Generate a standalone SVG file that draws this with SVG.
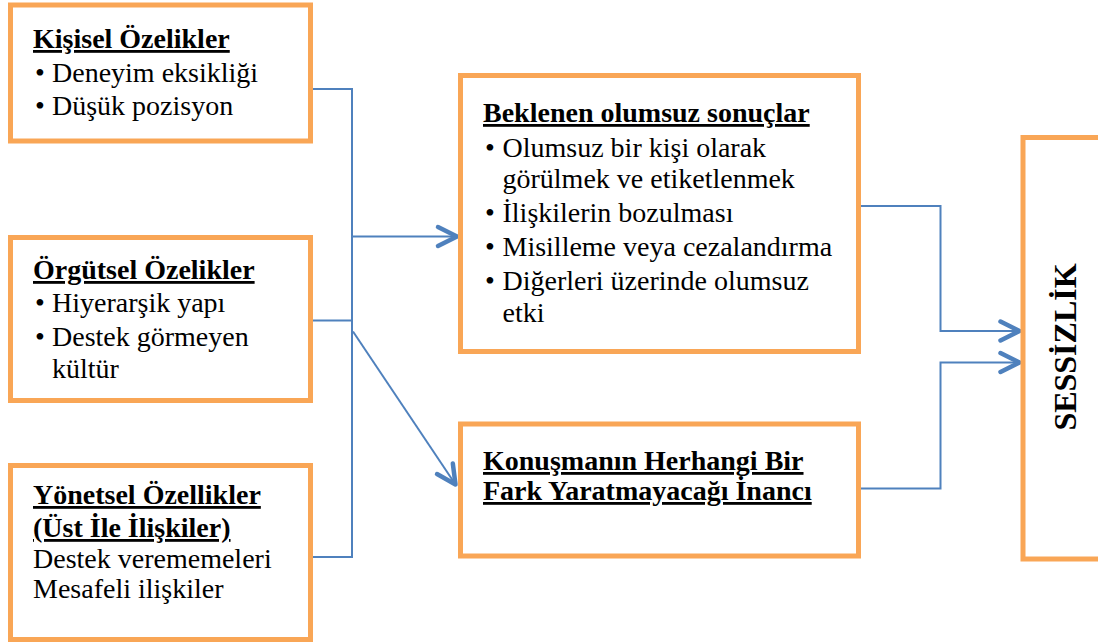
<svg xmlns="http://www.w3.org/2000/svg" width="1098" height="642" viewBox="0 0 1098 642">
<style>
  .box { fill: #FFFFFF; stroke: #F9A656; stroke-width: 5; }
  .lbl { font-family: "Liberation Serif", "Times New Roman", serif; font-size: 28px; fill: #000000; }
  .hdr { font-weight: bold; text-decoration: underline; }
  .big { font-family: "Liberation Serif", "Times New Roman", serif; font-size: 32px; font-weight: bold; fill: #000000; }
  .conn { fill: none; stroke: #4F81BD; stroke-width: 2; }
  .head { fill: none; stroke: #4F81BD; stroke-width: 4.5; stroke-linecap: round; stroke-linejoin: round; }
</style>
<defs>
  <marker id="arrow" markerUnits="userSpaceOnUse" markerWidth="40" markerHeight="40" refX="0" refY="0" orient="auto" viewBox="-30 -20 40 40" overflow="visible">
    <path class="head" d="M-19,-9.5 L0,0 L-19,9.5"/>
  </marker>
</defs>
<rect width="1098" height="642" fill="#FFFFFF"/>

<g id="connectors">
  <path class="conn" d="M311,89 H352 V557 H311"/>
  <path class="conn" d="M311,320.5 H352"/>
  <path class="conn" d="M352,236.5 H457" marker-end="url(#arrow)"/>
  <path class="conn" d="M353,331.5 L455.5,484.5" marker-end="url(#arrow)"/>
  <path class="conn" d="M860,206 H940.5 V331 H1019.5" marker-end="url(#arrow)"/>
  <path class="conn" d="M860,488.5 H940.5 V362.5 H1019.5" marker-end="url(#arrow)"/>
</g>

<g id="kisisel">
  <rect class="box" x="10.5" y="5" width="300" height="136"/>
  <text class="lbl hdr" x="33" y="48">Kişisel Özelikler</text>
  <text class="lbl" y="82"><tspan x="35">•</tspan><tspan x="52">Deneyim eksikliği</tspan></text>
  <text class="lbl" y="115"><tspan x="35">•</tspan><tspan x="52">Düşük pozisyon</tspan></text>
</g>

<g id="orgutsel">
  <rect class="box" x="10.5" y="237.5" width="300" height="163"/>
  <text class="lbl hdr" x="33" y="279">Örgütsel Özelikler</text>
  <text class="lbl" y="312"><tspan x="35">•</tspan><tspan x="52">Hiyerarşik yapı</tspan></text>
  <text class="lbl" y="346"><tspan x="35">•</tspan><tspan x="52">Destek görmeyen</tspan></text>
  <text class="lbl" x="52" y="378">kültür</text>
</g>

<g id="yonetsel">
  <rect class="box" x="10.5" y="465.5" width="300" height="174"/>
  <text class="lbl hdr" x="33" y="504">Yönetsel Özellikler</text>
  <text class="lbl hdr" x="33" y="537">(Üst İle İlişkiler)</text>
  <text class="lbl" x="33" y="568">Destek verememeleri</text>
  <text class="lbl" x="33" y="598">Mesafeli ilişkiler</text>
</g>

<g id="beklenen">
  <rect class="box" x="460.5" y="75.5" width="398" height="276"/>
  <text class="lbl hdr" x="483" y="122">Beklenen olumsuz sonuçlar</text>
  <text class="lbl" y="157"><tspan x="485">•</tspan><tspan x="502.5">Olumsuz bir kişi olarak</tspan></text>
  <text class="lbl" x="502.5" y="188">görülmek ve etiketlenmek</text>
  <text class="lbl" y="222"><tspan x="485">•</tspan><tspan x="502.5">İlişkilerin bozulması</tspan></text>
  <text class="lbl" y="256"><tspan x="485">•</tspan><tspan x="502.5">Misilleme veya cezalandırma</tspan></text>
  <text class="lbl" y="290"><tspan x="485">•</tspan><tspan x="502.5">Diğerleri üzerinde olumsuz</tspan></text>
  <text class="lbl" x="502.5" y="322">etki</text>
</g>

<g id="konusmanin">
  <rect class="box" x="460.5" y="424" width="398" height="132"/>
  <text class="lbl hdr" x="483" y="470">Konuşmanın Herhangi Bir</text>
  <text class="lbl hdr" x="483" y="500">Fark Yaratmayacağı İnancı</text>
</g>

<g id="sessizlik">
  <rect class="box" x="1023" y="137.5" width="100" height="421.5"/>
  <text class="big" text-anchor="middle" transform="translate(1076,347) rotate(-90)">SESSİZLİK</text>
</g>
</svg>
